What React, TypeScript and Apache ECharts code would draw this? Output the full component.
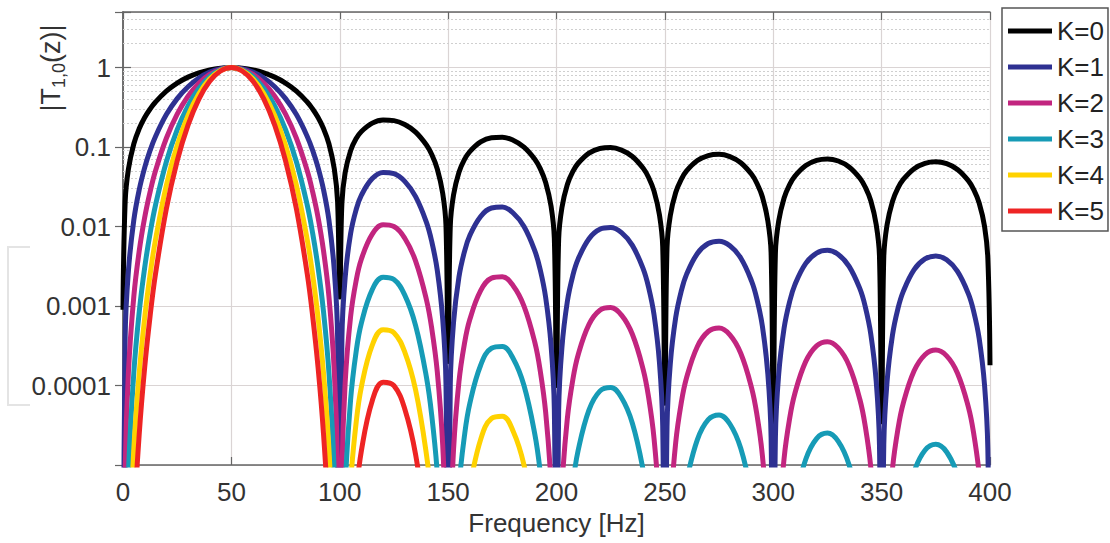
import React, { useEffect, useRef } from "react";
import * as echarts from "echarts";

// Frequency samples [Hz]
const freqHz = [
  0, 1, 2.5, 5, 7.5, 10, 12.5, 15, 20, 25, 30, 35, 40, 45, 50, 55, 60, 65, 70, 75, 80, 85, 87.5, 90, 92.5, 95, 97.5, 99, 100,
  101, 102.5, 105, 107.5, 110, 115, 120, 125, 130, 135, 140, 142.5, 145, 147.5, 149, 150,
  151, 152.5, 155, 157.5, 160, 165, 170, 175, 180, 185, 190, 192.5, 195, 197.5, 199, 200,
  201, 202.5, 205, 207.5, 210, 215, 220, 225, 230, 235, 240, 242.5, 245, 247.5, 249, 250,
  251, 252.5, 255, 257.5, 260, 265, 270, 275, 280, 285, 290, 292.5, 295, 297.5, 299, 300,
  301, 302.5, 305, 307.5, 310, 315, 320, 325, 330, 335, 340, 342.5, 345, 347.5, 349, 350,
  351, 352.5, 355, 357.5, 360, 365, 370, 375, 380, 385, 390, 392.5, 395, 397.5, 399, 400,
];

const magK0 = [
  9e-4, 0.0205, 0.0527, 0.11, 0.171, 0.235, 0.301, 0.369, 0.506, 0.638, 0.758, 0.859, 0.936, 0.984, 1, 0.984, 0.936, 0.859, 0.758, 0.638, 0.506, 0.369, 0.301, 0.235, 0.171, 0.11, 0.0527, 0.0205, 1.3e-3,
  0.0198, 0.0478, 0.0901, 0.127, 0.157, 0.2, 0.219, 0.215, 0.192, 0.154, 0.106, 0.0799, 0.053, 0.0262, 0.0104, 2e-4,
  0.0102, 0.025, 0.0482, 0.0693, 0.0877, 0.116, 0.131, 0.133, 0.122, 0.1, 0.0703, 0.0535, 0.0358, 0.0179, 7.1e-3, 1e-4,
  7.0e-3, 0.0173, 0.0338, 0.049, 0.0625, 0.0838, 0.096, 0.0985, 0.0915, 0.0761, 0.0541, 0.0414, 0.0279, 0.014, 5.6e-3, 6e-5,
  5.5e-3, 0.0137, 0.0268, 0.039, 0.05, 0.0676, 0.0782, 0.0809, 0.0757, 0.0634, 0.0454, 0.0348, 0.0235, 0.0118, 4.7e-3, 3.5e-5,
  4.7e-3, 0.0117, 0.0229, 0.0335, 0.0431, 0.0586, 0.0681, 0.0709, 0.0667, 0.0562, 0.0405, 0.0311, 0.0211, 0.0106, 4.3e-3, 3.5e-5,
  4.2e-3, 0.0105, 0.0207, 0.0304, 0.0392, 0.0535, 0.0625, 0.0653, 0.0618, 0.0523, 0.0378, 0.0291, 0.0198, 0.01, 4.0e-3, 1.8e-4,
];

const magK1 = [
  1e-8, 4.2e-4, 2.78e-3, 0.0121, 0.0292, 0.0551, 0.0907, 0.136, 0.256, 0.407, 0.574, 0.738, 0.876, 0.967, 1, 0.967, 0.876, 0.738, 0.574, 0.407, 0.256, 0.136, 0.0907, 0.0551, 0.0292, 0.0121, 2.78e-3, 4.2e-4, 1e-8,
  3.9e-4, 2.29e-3, 8.12e-3, 0.0161, 0.0248, 0.0401, 0.048, 0.0463, 0.037, 0.0238, 0.0113, 6.38e-3, 2.81e-3, 6.85e-4, 1.07e-4, 1e-8,
  1.03e-4, 6.23e-4, 2.32e-3, 4.8e-3, 7.7e-3, 0.0134, 0.0171, 0.0176, 0.0148, 0.01, 4.94e-3, 2.86e-3, 1.28e-3, 3.19e-4, 5.05e-5, 1e-8,
  4.93e-5, 3.01e-4, 1.14e-3, 2.4e-3, 3.9e-3, 7.02e-3, 9.22e-3, 9.7e-3, 8.38e-3, 5.79e-3, 2.93e-3, 1.71e-3, 7.77e-4, 1.95e-4, 3.11e-5, 1e-8,
  3.06e-5, 1.88e-4, 7.18e-4, 1.52e-3, 2.5e-3, 4.58e-3, 6.11e-3, 6.54e-3, 5.73e-3, 4.02e-3, 2.06e-3, 1.21e-3, 5.54e-4, 1.4e-4, 2.24e-5, 1e-8,
  2.22e-5, 1.37e-4, 5.26e-4, 1.12e-3, 1.86e-3, 3.44e-3, 4.64e-3, 5.02e-3, 4.45e-3, 3.16e-3, 1.64e-3, 9.68e-4, 4.44e-4, 1.13e-4, 1.81e-5, 1e-8,
  1.8e-5, 1.11e-4, 4.3e-4, 9.22e-4, 1.53e-3, 2.87e-3, 3.91e-3, 4.27e-3, 3.82e-3, 2.73e-3, 1.43e-3, 8.48e-4, 3.91e-4, 9.98e-5, 1.6e-5, 3e-8,
];

const magK2 = [
  1e-8, 8.65e-6, 1.47e-4, 1.33e-3, 4.98e-3, 0.013, 0.0273, 0.0503, 0.129, 0.259, 0.435, 0.634, 0.819, 0.952, 1, 0.952, 0.819, 0.634, 0.435, 0.259, 0.129, 0.0503, 0.0273, 0.013, 4.98e-3, 1.33e-3, 1.47e-4, 8.65e-6, 1e-8,
  7.7e-6, 1.09e-4, 7.32e-4, 2.04e-3, 3.9e-3, 8.03e-3, 0.0105, 9.98e-3, 7.12e-3, 3.68e-3, 1.2e-3, 5.1e-4, 1.49e-4, 1.79e-5, 1.11e-6, 1e-8,
  1.05e-6, 1.56e-5, 1.12e-4, 3.33e-4, 6.75e-4, 1.56e-3, 2.24e-3, 2.33e-3, 1.8e-3, 1e-3, 3.48e-4, 1.53e-4, 4.6e-5, 5.7e-6, 3.6e-7, 1e-8,
  3.5e-7, 5.2e-6, 3.85e-5, 1.17e-4, 2.44e-4, 5.88e-4, 8.85e-4, 9.56e-4, 7.67e-4, 4.41e-4, 1.59e-4, 7.08e-5, 2.16e-5, 2.72e-6, 1.7e-7, 1e-8,
  1.7e-7, 2.57e-6, 1.92e-5, 5.93e-5, 1.25e-4, 3.1e-4, 4.78e-4, 5.29e-4, 4.34e-4, 2.55e-4, 9.36e-5, 4.23e-5, 1.31e-5, 1.66e-6, 1.1e-7, 1e-8,
  1.05e-7, 1.59e-6, 1.21e-5, 3.76e-5, 8e-5, 2.01e-4, 3.16e-4, 3.56e-4, 2.97e-4, 1.78e-4, 6.62e-5, 3.01e-5, 9.37e-6, 1.2e-6, 7.7e-8, 1e-8,
  7.6e-8, 1.17e-6, 8.92e-6, 2.8e-5, 6e-5, 1.53e-4, 2.44e-4, 2.79e-4, 2.36e-4, 1.43e-4, 5.39e-5, 2.47e-5, 7.73e-6, 1e-6, 6.5e-8, 1e-8,
];

const magK3 = [
  1e-8, 1.78e-7, 7.73e-6, 1.46e-4, 8.51e-4, 3.04e-3, 8.23e-3, 0.0186, 0.0654, 0.165, 0.33, 0.545, 0.766, 0.936, 1, 0.936, 0.766, 0.545, 0.33, 0.165, 0.0654, 0.0186, 8.23e-3, 3.04e-3, 8.51e-4, 1.46e-4, 7.73e-6, 1.78e-7, 1e-8,
  1.52e-7, 5.23e-6, 6.6e-5, 2.59e-4, 6.13e-4, 1.61e-3, 2.3e-3, 2.15e-3, 1.37e-3, 5.68e-4, 1.27e-4, 4.07e-5, 7.88e-6, 4.7e-7, 1.1e-8, 1e-8,
  1.07e-8, 3.88e-7, 5.4e-6, 2.3e-5, 5.93e-5, 1.8e-4, 2.94e-4, 3.09e-4, 2.19e-4, 1e-4, 2.44e-5, 8.17e-6, 1.65e-6, 1.02e-7, 1e-8, 1e-8,
  1e-8, 9e-8, 1.3e-6, 5.74e-6, 1.53e-5, 4.93e-5, 8.5e-5, 9.42e-5, 7.02e-5, 3.36e-5, 8.57e-6, 2.93e-6, 6.03e-7, 3.8e-8, 1e-8, 1e-8,
  1e-8, 3.5e-8, 5.16e-7, 2.31e-6, 6.26e-6, 2.09e-5, 3.73e-5, 4.27e-5, 3.28e-5, 1.62e-5, 4.25e-6, 1.47e-6, 3.07e-7, 2e-8, 1e-8, 1e-8,
  1e-8, 1.9e-8, 2.77e-7, 1.26e-6, 3.45e-6, 1.18e-5, 2.15e-5, 2.52e-5, 1.98e-5, 9.98e-6, 2.68e-6, 9.37e-7, 1.98e-7, 1.3e-8, 1e-8, 1e-8,
  1e-8, 1.2e-8, 1.85e-7, 8.5e-7, 2.35e-6, 8.21e-6, 1.53e-5, 1.82e-5, 1.46e-5, 7.46e-6, 2.04e-6, 7.19e-7, 1.53e-7, 1e-8, 1e-8, 1e-8,
];

const magK4 = [
  1e-8, 1e-8, 4.07e-7, 1.6e-5, 1.45e-4, 7.14e-4, 2.48e-3, 6.85e-3, 0.0331, 0.105, 0.25, 0.468, 0.717, 0.92, 1, 0.92, 0.717, 0.468, 0.25, 0.105, 0.0331, 6.85e-3, 2.48e-3, 7.14e-4, 1.45e-4, 1.6e-5, 4.07e-7, 1e-8, 1e-8,
  1e-8, 2.5e-7, 5.95e-6, 3.29e-5, 9.65e-5, 3.22e-4, 5.04e-4, 4.62e-4, 2.63e-4, 8.76e-5, 1.35e-5, 3.25e-6, 4.18e-7, 1.2e-8, 1e-8, 1e-8,
  1e-8, 1e-8, 2.6e-7, 1.6e-6, 5.2e-6, 2.09e-5, 3.85e-5, 4.1e-5, 2.66e-5, 1e-5, 1.72e-6, 4.37e-7, 5.9e-8, 1e-8, 1e-8, 1e-8,
  1e-8, 1e-8, 4.4e-8, 2.6e-7, 8.5e-7, 3.1e-6, 6.1e-6, 7e-6, 4.8e-6, 2.2e-6, 4.2e-7, 1.1e-7, 1.7e-8, 1e-8, 1e-8, 1e-8,
  1e-8, 1e-8, 1.4e-8, 9e-8, 3.13e-7, 1.42e-6, 2.92e-6, 3.46e-6, 2.48e-6, 1.03e-6, 1.93e-7, 5.1e-8, 1e-8, 1e-8, 1e-8, 1e-8,
  1e-8, 1e-8, 1e-8, 4.2e-8, 1.48e-7, 6.92e-7, 1.47e-6, 1.79e-6, 1.32e-6, 5.61e-7, 1.08e-7, 2.9e-8, 1e-8, 1e-8, 1e-8, 1e-8,
  1e-8, 1e-8, 1e-8, 2.6e-8, 9.2e-8, 4.4e-7, 9.53e-7, 1.19e-6, 8.98e-7, 3.9e-7, 7.7e-8, 2.1e-8, 1e-8, 1e-8, 1e-8, 1e-8,
];

const magK5 = [
  1e-8, 1e-8, 2.15e-8, 1.76e-6, 2.48e-5, 1.68e-4, 7.46e-4, 2.53e-3, 0.0167, 0.0672, 0.189, 0.402, 0.671, 0.905, 1, 0.905, 0.671, 0.402, 0.189, 0.0672, 0.0167, 2.53e-3, 7.46e-4, 1.68e-4, 2.48e-5, 1.76e-6, 2.15e-8, 1e-8, 1e-8,
  1e-8, 1.2e-8, 5.36e-7, 4.17e-6, 1.52e-5, 6.45e-5, 1.1e-4, 9.95e-5, 5.07e-5, 1.35e-5, 1.43e-6, 2.6e-7, 2.2e-8, 1e-8, 1e-8, 1e-8,
  1e-8, 1e-8, 1.25e-8, 1.11e-7, 4.56e-7, 2.42e-6, 5.04e-6, 5.43e-6, 3.24e-6, 1e-6, 1.21e-7, 2.33e-8, 1e-8, 1e-8, 1e-8, 1e-8,
  1e-8, 1e-8, 1e-8, 1.4e-8, 5.95e-8, 3.46e-7, 7.83e-7, 9.14e-7, 5.88e-7, 1.95e-7, 2.5e-8, 1e-8, 1e-8, 1e-8, 1e-8, 1e-8,
  1e-8, 1e-8, 1e-8, 1e-8, 1.6e-8, 9.6e-8, 2.28e-7, 2.79e-7, 1.88e-7, 6.5e-8, 1e-8, 1e-8, 1e-8, 1e-8, 1e-8, 1e-8,
  1e-8, 1e-8, 1e-8, 1e-8, 1e-8, 4.1e-8, 1e-7, 1.27e-7, 8.9e-8, 3.2e-8, 1e-8, 1e-8, 1e-8, 1e-8, 1e-8, 1e-8,
  1e-8, 1e-8, 1e-8, 1e-8, 1e-8, 2.4e-8, 5.95e-8, 7.8e-8, 5.5e-8, 2e-8, 1e-8, 1e-8, 1e-8, 1e-8, 1e-8, 1e-8,
];

const seriesNames = ["K=0", "K=1", "K=2", "K=3", "K=4", "K=5"];
const seriesColors = ["#000000", "#2E3192", "#C2257F", "#169BB6", "#FFD200", "#EE2424"];

const yTickValues = [0.0001, 0.001, 0.01, 0.1, 1];
const yTickLabels = ["0.0001", "0.001", "0.01", "0.1", "1"];
const minorGridValues = [
  0.00002, 0.00003, 0.00004, 0.00005, 0.00006, 0.00007, 0.00008, 0.00009,
  0.0002, 0.0003, 0.0004, 0.0005, 0.0006, 0.0007, 0.0008, 0.0009,
  0.002, 0.003, 0.004, 0.005, 0.006, 0.007, 0.008, 0.009,
  0.02, 0.03, 0.04, 0.05, 0.06, 0.07, 0.08, 0.09,
  0.2, 0.3, 0.4, 0.5, 0.6, 0.7, 0.8, 0.9,
  2, 3, 4,
];

export default function App() {
  const ref = useRef<HTMLDivElement>(null);

  useEffect(() => {
    if (!ref.current) return;
    const chart = echarts.init(ref.current, null, { renderer: "svg" });
    const allMags = [magK0, magK1, magK2, magK3, magK4, magK5];
    const font = "'Liberation Sans', Arial, Helvetica, sans-serif";
    const axisColor = "#666666";
    const gridColor = "#dad4d4";

    const yFormatter = (v: number) => {
      const i = yTickValues.findIndex((t) => Math.abs(Math.log10(t) - Math.log10(v)) < 1e-6);
      return i >= 0 ? yTickLabels[i] : "";
    };

    const lineSeries = seriesNames.map((name, k) => ({
      name,
      type: "line",
      data: freqHz.map((f, i) => [f, allMags[k][i]]),
      symbol: "none",
      showSymbol: false,
      smooth: 0.4,
      clip: true,
      silent: true,
      z: 3,
      lineStyle: { color: seriesColors[k], width: 5 },
      itemStyle: { color: seriesColors[k] },
    }));

    const option: any = {
      animation: false,
      backgroundColor: "#ffffff",
      grid: { left: 123, right: 120, top: 12, bottom: 78 },
      legend: {
        data: seriesNames,
        orient: "vertical",
        left: 1002,
        top: 8,
        padding: [10, 4, 7, 6],
        icon: "rect",
        itemWidth: 44,
        itemHeight: 5,
        itemGap: 10,
        borderColor: "#555555",
        borderWidth: 1.5,
        backgroundColor: "#ffffff",
        selectedMode: false,
        textStyle: { fontSize: 26, lineHeight: 26, color: "#222222", fontFamily: font },
      },
      xAxis: [
        {
          type: "value",
          min: 0,
          max: 400,
          interval: 50,
          position: "bottom",
          name: "Frequency [Hz]",
          nameLocation: "middle",
          nameGap: 44,
          nameTextStyle: { fontSize: 26, color: "#333333", fontFamily: font },
          axisLine: { show: true, lineStyle: { color: axisColor, width: 1.5 } },
          axisTick: { show: true, inside: true, length: 8, lineStyle: { color: axisColor, width: 1.2 } },
          axisLabel: { fontSize: 26, color: "#333333", margin: 14, fontFamily: font },
          splitLine: { show: true, lineStyle: { color: gridColor, width: 1.2 } },
        },
        {
          type: "value",
          min: 0,
          max: 400,
          interval: 50,
          position: "top",
          axisLine: { show: true, lineStyle: { color: axisColor, width: 1.5 } },
          axisTick: { show: true, inside: true, length: 8, lineStyle: { color: axisColor, width: 1.2 } },
          axisLabel: { show: false },
          splitLine: { show: false },
        },
      ],
      yAxis: [
        {
          type: "log",
          logBase: 10,
          min: 0.00001,
          max: 5,
          position: "left",
          axisLine: { show: true, lineStyle: { color: axisColor, width: 1.5 } },
          axisTick: { show: true, inside: true, length: 8, lineStyle: { color: axisColor, width: 1.2 } },
          axisLabel: { fontSize: 26, color: "#333333", margin: 12, fontFamily: font, formatter: yFormatter },
          splitLine: { show: true, lineStyle: { color: gridColor, width: 1.2 } },
        },
        {
          type: "log",
          logBase: 10,
          min: 0.00001,
          max: 5,
          position: "right",
          axisLine: { show: true, lineStyle: { color: axisColor, width: 1.5 } },
          axisTick: { show: true, inside: true, length: 8, lineStyle: { color: axisColor, width: 1.2 } },
          axisLabel: { show: false },
          splitLine: { show: false },
        },
      ],
      graphic: [
        {
          type: "polyline",
          silent: true,
          shape: { points: [[30, 247], [8, 247], [8, 405], [30, 405]] },
          style: { stroke: "#e4e4e4", lineWidth: 2, fill: null },
        },
        {
          type: "text",
          x: 51,
          y: 68,
          rotation: Math.PI / 2,
          silent: true,
          style: {
            text: "|T{sub|1,0}(z)|",
            fontSize: 27,
            fontFamily: font,
            fill: "#333333",
            align: "center",
            verticalAlign: "middle",
            lineHeight: 34,
            rich: {
              sub: { fontSize: 18, lineHeight: 18, verticalAlign: "bottom", fill: "#333333", fontFamily: font },
            },
          },
        },
      ],
      series: [
        {
          name: "minorGrid",
          type: "line",
          data: [],
          silent: true,
          z: 1,
          markLine: {
            silent: true,
            z: 1,
            animation: false,
            symbol: ["none", "none"],
            label: { show: false },
            lineStyle: { type: [2, 2], color: "#cfcfcf", width: 1 },
            emphasis: { disabled: true },
            data: minorGridValues.map((v) => ({ yAxis: v })),
          },
        },
        ...lineSeries,
      ],
    };

    chart.setOption(option);
    return () => chart.dispose();
  }, []);

  return (
    <div
      ref={ref}
      style={{ position: "fixed", left: 0, top: 0, width: 1110, height: 543, background: "#ffffff" }}
    />
  );
}
